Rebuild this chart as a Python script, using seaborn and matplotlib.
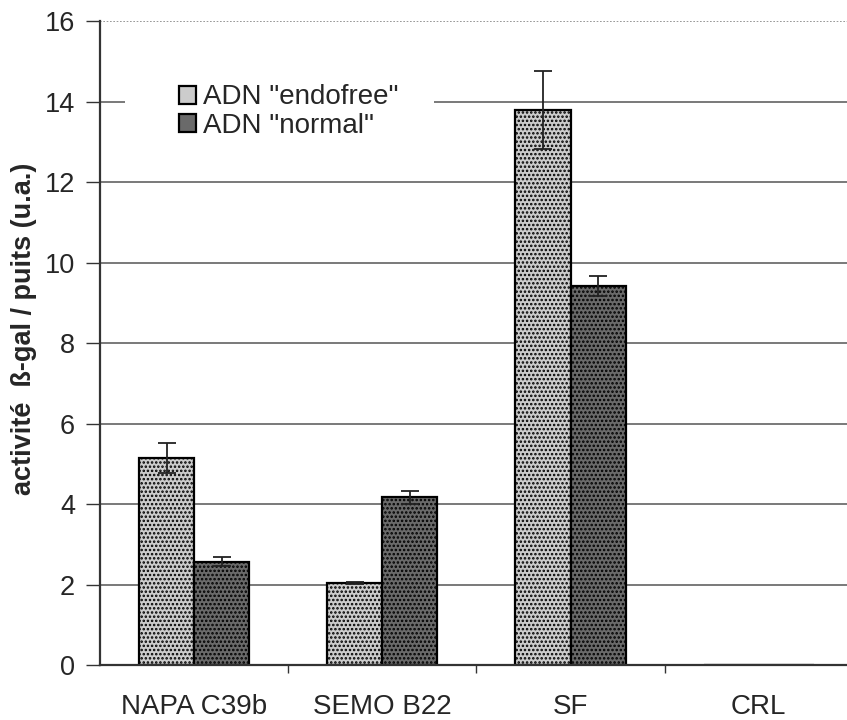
import matplotlib as mpl
import matplotlib.pyplot as plt
import pandas as pd
import seaborn as sns

categories = ["NAPA C39b", "SEMO B22", "SF", "CRL"]
series = ['ADN "endofree"', 'ADN "normal"']
endofree = [5.15, 2.04, 13.8, 0.0]
endofree_err = [0.37, 0.02, 0.97, 0.0]
normal = [2.57, 4.17, 9.42, 0.0]
normal_err = [0.12, 0.16, 0.25, 0.0]

df = pd.DataFrame({
    "cat": categories * 2,
    "serie": [series[0]] * 4 + [series[1]] * 4,
    "val": endofree + normal,
})
errs = {series[0]: endofree_err, series[1]: normal_err}

sns.set_theme(style="white")
plt.rcParams["font.family"] = ["Liberation Sans", "DejaVu Sans"]
plt.rcParams["hatch.linewidth"] = 1.2

fig = plt.figure(figsize=(8.47, 7.2), dpi=100)
ax = fig.add_axes([0.118, 0.0764, 0.889, 0.894])

sns.barplot(
    data=df, x="cat", y="val", hue="serie",
    palette=["#cccccc", "#6a6a6a"], width=0.585,
    edgecolor="black", linewidth=1.6, errorbar=None, ax=ax,
)

for cont, s in zip(ax.containers, series):
    for bar, e in zip(cont, errs[s]):
        bar.set_hatch("....")
        if e > 0:
            xc = bar.get_x() + bar.get_width() / 2
            ax.errorbar(xc, bar.get_height(), yerr=e, fmt="none",
                        ecolor="#222222", elinewidth=1.3, capsize=6.5, capthick=1.3, zorder=5)

ax.set_ylim(0, 16)
ax.set_yticks(range(0, 17, 2))
ax.set_xlim(-0.5, 3.5)
for y in range(2, 16, 2):
    ax.axhline(y, color="#555555", lw=1.1, zorder=0)
ax.axhline(16, color="#888888", lw=1.2, ls=(0, (1, 1)), zorder=0)

ax.set_xticks([0.5, 1.5, 2.5], minor=True)
ax.tick_params(axis="x", which="minor", direction="out", length=6, width=1, color="#333333", bottom=True)
ax.tick_params(axis="x", which="major", length=0, labelsize=20, pad=21)
ax.tick_params(axis="y", direction="out", length=10, width=1, color="#333333", left=True, labelsize=19.5, pad=8)

for side in ["top", "right"]:
    ax.spines[side].set_visible(False)
ax.spines["left"].set_color("#333333")
ax.spines["left"].set_linewidth(1.6)
ax.spines["bottom"].set_color("#333333")
ax.spines["bottom"].set_linewidth(1.6)

ax.set_xlabel("")
ax.set_ylabel("activité  ß-gal / puits (u.a.)", fontsize=19.5, fontweight="bold")
ax.yaxis.set_label_coords(-0.083, 0.522)

# white box behind the legend hides part of the 14 gridline
ax.add_patch(mpl.patches.Rectangle((0.033, 0.807), 0.41, 0.114, transform=ax.transAxes,
                                   facecolor="white", edgecolor="none", zorder=1))

leg = ax.legend(loc="upper left", bbox_to_anchor=(0.105, 0.902), frameon=False,
                fontsize=20, handlelength=0.62, handleheight=0.62, handletextpad=0.25,
                labelspacing=0.1, borderpad=0, borderaxespad=0)

plt.savefig("out.png", dpi=100)
